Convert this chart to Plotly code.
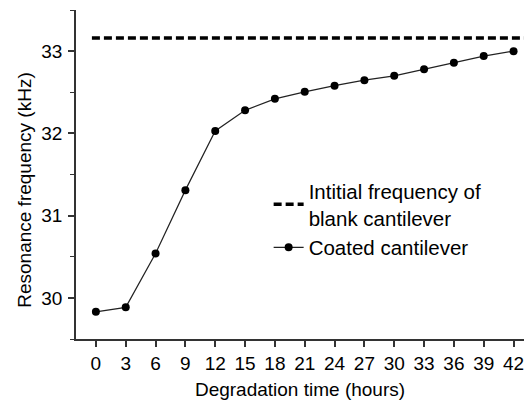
import plotly.graph_objects as go

hours = [0, 3, 6, 9, 12, 15, 18, 21, 24, 27, 30, 33, 36, 39, 42]
coated_freq = [29.83, 29.885, 30.54, 31.31, 32.03, 32.28, 32.42, 32.505, 32.58,
               32.647, 32.70, 32.78, 32.86, 32.94, 33.00]
blank_x = [-0.4, 43.1]
blank_freq = [33.16, 33.16]
x_ticks = list(range(0, 43, 3))
y_ticks = [30, 31, 32, 33]

FONT = "Liberation Sans, Arial, sans-serif"

fig = go.Figure()
fig.add_trace(go.Scatter(
    x=blank_x, y=blank_freq, mode="lines",
    name="Intitial frequency of<br>blank cantilever",
    line=dict(color="black", width=3.5, dash="8px,4px"),
))
fig.add_trace(go.Scatter(
    x=hours, y=coated_freq, mode="lines+markers",
    name="Coated cantilever",
    line=dict(color="#222222", width=1.2),
    marker=dict(color="black", size=8),
))

fig.update_layout(
    width=524, height=403,
    margin=dict(l=76, r=0, t=10, b=64),
    paper_bgcolor="white", plot_bgcolor="white",
    font=dict(family=FONT, size=19, color="black"),
    showlegend=True,
    legend=dict(
        x=0.43, y=0.51, xanchor="left", yanchor="top",
        bgcolor="rgba(0,0,0,0)",
        font=dict(family=FONT, size=20.5, color="black"),
        tracegroupgap=0,
    ),
    xaxis=dict(
        range=[-2, 43.05], tickvals=x_ticks, ticktext=[str(v) for v in x_ticks],
        showgrid=False, zeroline=False, showline=True, linecolor="#333333", linewidth=1.6,
        ticks="outside", ticklen=6, tickwidth=1.6, tickcolor="#333333",
        title=dict(text="Degradation time (hours)", standoff=10,
                   font=dict(family=FONT, size=19)),
        tickfont=dict(family=FONT, size=19),
        ticklabeloverflow="allow", automargin=False,
    ),
    yaxis=dict(
        range=[29.5, 33.5], tickvals=y_ticks,
        showgrid=False, zeroline=False, showline=True, linecolor="#333333", linewidth=1.6,
        ticks="outside", ticklen=6, tickwidth=1.6, tickcolor="#333333",
        minor=dict(dtick=0.5, tick0=29.5, ticks="outside", ticklen=4, tickwidth=1.4,
                   tickcolor="#333333", showgrid=False),
        tickfont=dict(family=FONT, size=19),
        ticklabelstandoff=2, automargin=False,
    ),
)

fig.add_annotation(
    text="Resonance frequency (kHz)", textangle=-90,
    xref="paper", yref="paper", x=-0.115, y=0.455, xanchor="center", yanchor="middle",
    showarrow=False, font=dict(family=FONT, size=19, color="black"),
)

fig.write_html("out.html", config={"displayModeBar": False},
               post_script="document.body.style.margin='0';document.body.style.overflow='hidden';")
